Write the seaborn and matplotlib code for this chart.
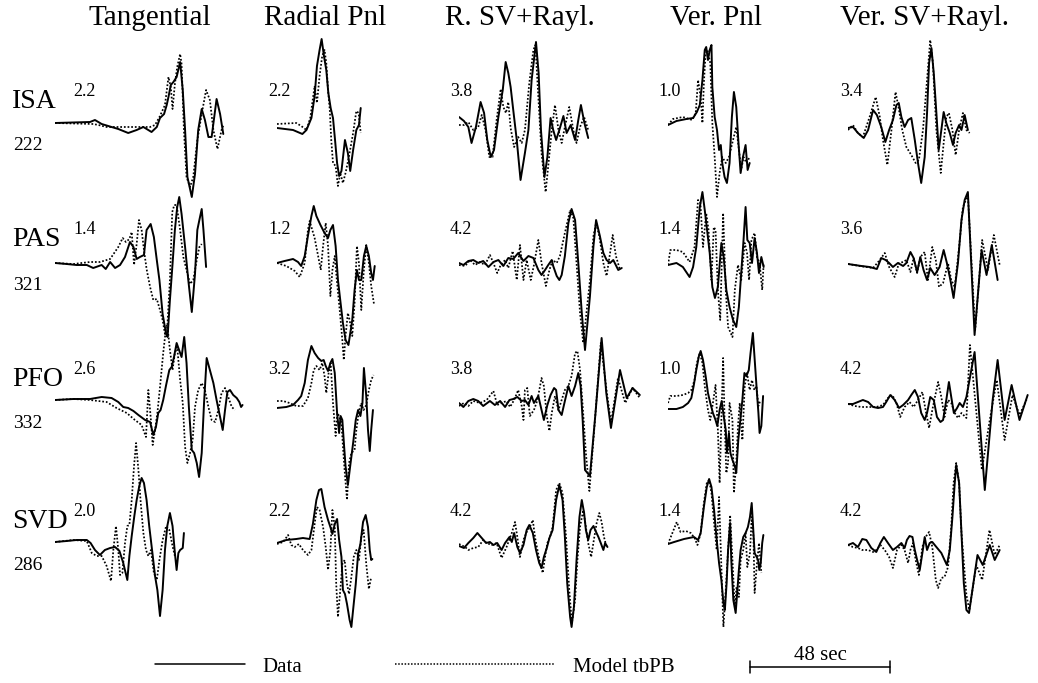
import matplotlib
matplotlib.use("Agg")
import matplotlib.pyplot as plt
from matplotlib.lines import Line2D
import seaborn as sns

# ---------------------------------------------------------------------------
# Waveforms: time (s from window start) and amplitude (normalised units)
# DATA = observed record, MODEL = synthetic for model tbPB
# ---------------------------------------------------------------------------

# ISA
ISA_TAN_T = [0, 12.0, 13.7, 16.0, 19.4, 21.7, 25.1, 28.0, 30.3, 33.1, 34.9, 36.0, 37.4, 38.3, 38.9, 39.7, 40.6, 41.7, 42.9, 43.8, 44.6, 45.4, 46.9, 48.0, 49.1, 50.3, 51.4, 52.6, 53.7, 55.4, 56.6, 57.7]
ISA_TAN_DATA = [0, 0.1, 0.3, -0.1, -0.4, -0.6, -1.0, -0.7, -0.4, -0.9, -0.4, 0.5, 0.9, 1.8, 2.6, 3.8, 4.1, 4.6, 6.1, 3.3, -0.7, -5.4, -7.4, -5.1, -0.7, 1.4, 0.3, -1.4, -1.4, 2.4, 0.9, -1.1]
ISA_TAN_MT = [0, 13.1, 14.9, 17.7, 21.1, 28.0, 32.6, 34.3, 36.0, 37.7, 38.9, 39.7, 40.3, 41.1, 41.9, 42.9, 43.4, 44.2, 45.1, 46.3, 47.4, 48.8, 50.3, 51.8, 53.1, 54.3, 55.7, 57.1, 57.9]
ISA_TAN_MODEL = [0, -0.1, -0.2, -0.4, -0.4, -0.4, -0.4, -0.2, 0.7, 1.8, 4.6, 3.6, 1.4, 3.9, 5.6, 6.9, 5.9, -0.7, -5.4, -6.4, -5.4, -1.7, 0.9, 3.3, 2.3, -0.7, -2.6, -0.7, -0.1]

ISA_RAD_T = [0, 5.5, 8.7, 10.1, 11.8, 12.9, 13.7, 14.6, 15.3, 16.1, 16.9, 17.6, 18.4, 19.2, 19.9, 20.6, 21.3, 22.1, 23.3, 24.3, 25.1, 26.1, 27.2, 28.1, 28.7]
ISA_RAD_DATA = [0, -0.2, -0.6, -0.2, 1.0, 3.2, 6.2, 7.8, 8.9, 7.2, 5.8, 3.5, 2.0, 1.0, -1.2, -3.5, -4.8, -4.3, -1.2, -2.5, -4.3, -2.2, -0.2, 0.3, 2.0]
ISA_RAD_MT = [0, 6.6, 8.3, 10.1, 11.4, 12.9, 13.7, 14.6, 15.5, 16.3, 16.9, 17.5, 18.1, 18.6, 19.2, 20.1, 20.9, 21.7, 22.6, 23.5, 24.7, 26.1, 27.2, 28.0, 28.7]
ISA_RAD_MODEL = [0.4, 0.5, 0.2, -0.2, 1.0, 4.2, 2.5, 5.2, 7.2, 7.8, 6.5, 3.8, 1.8, -1.2, -3.5, -3.8, -5.8, -4.5, -5.5, -4.5, -2.8, -0.5, 1.7, 1.5, -0.5]

ISA_RSV_T = [0, 1.7, 3.2, 4.3, 5.8, 7.4, 8.6, 9.7, 10.9, 12.0, 13.5, 15.0, 16.0, 16.9, 17.7, 18.6, 19.8, 21.1, 22.6, 23.8, 24.9, 26.4, 27.3, 28.1, 29.3, 30.3, 31.4, 32.3, 33.3, 34.4, 35.8, 36.9, 38.3, 39.8, 40.9, 41.8, 43.0, 44.3]
ISA_RSV_DATA = [0.8, 0.4, -0.2, -1.8, -0.2, 2.3, 1.2, -1.5, -3.2, -2.5, 0.8, 3.5, 6.3, 5.2, 3.8, 1.5, -1.5, -5.5, -2.8, -0.5, 4.5, 8.3, 5.2, -0.5, -5.2, -3.2, 0.7, -0.5, -1.5, -0.5, 0.9, -0.8, 0, -1.5, 0.5, 2.0, 0.2, -1.3]
ISA_RSV_MT = [0, 1.7, 3.2, 4.9, 6.6, 7.8, 9.1, 10.4, 11.5, 12.9, 14.3, 15.2, 16.1, 16.9, 17.7, 18.9, 20.3, 21.5, 22.6, 24.1, 25.5, 26.2, 27.2, 28.3, 29.7, 30.7, 31.8, 32.9, 34.1, 35.2, 36.3, 37.8, 39.2, 40.3, 41.5, 42.9, 44.3]
ISA_RSV_MODEL = [0, 0, 0.3, -0.5, -0.2, 1.0, -0.5, -3.2, -3.2, 0.5, 3.6, 1.8, 1.2, 2.3, -0.3, -2.2, -1.2, -1.8, -0.5, 4.2, 7.5, 8.0, 2.8, -2.8, -6.7, -3.8, -0.5, 2.0, -0.5, -1.8, -0.2, 1.8, -0.5, -1.8, -0.2, 0.8, -0.5]

ISA_VPN_T = [0, 2.9, 6.3, 8.6, 9.9, 10.9, 11.8, 12.6, 13.1, 13.7, 14.3, 14.9, 15.2, 16.0, 16.8, 17.5, 18.1, 18.6, 19.4, 20.2, 21.1, 21.9, 22.6, 23.4, 24.1, 24.9, 25.7, 26.6, 27.3, 28.0]
ISA_VPN_DATA = [0, 0.4, 0.6, 0.7, 1.3, 2.0, 4.5, 7.5, 7.8, 6.5, 7.5, 8.0, 3.8, 0.8, -0.5, -2.5, -2.0, -3.8, -5.2, -5.8, -3.8, 0.8, 3.3, 1.8, -1.5, -4.8, -3.2, -2.0, -4.5, -3.8]
ISA_VPN_MT = [0, 1.7, 5.1, 8.3, 9.5, 10.3, 11.2, 11.8, 12.3, 12.9, 13.5, 14.5, 15.2, 16.0, 16.8, 17.7, 18.6, 19.8, 20.9, 22.3, 23.4, 24.6, 25.1, 25.9, 26.9, 28.0]
ISA_VPN_MODEL = [0, 0.6, 0.8, 0.5, 1.2, 4.5, 2.8, 0.2, 4.2, 7.2, 7.5, 6.2, 0.2, -3.2, -7.2, -4.8, -3.2, -3.8, -3.2, -1.5, -0.2, -3.2, -4.5, -3.2, -3.8, -3.2]

ISA_VSV_T = [0, 1.7, 3.4, 5.4, 6.9, 8.6, 9.9, 11.4, 12.8, 14.1, 15.4, 16.6, 17.4, 18.3, 19.4, 20.6, 21.7, 22.9, 24.0, 25.1, 26.3, 27.1, 27.8, 28.6, 29.4, 30.3, 31.1, 32.0, 32.8, 33.7, 34.9, 36.0, 36.9, 38.1, 38.9, 40.0, 41.1]
ISA_VSV_DATA = [0.2, 0.3, -0.3, -0.8, 0, 2.0, 1.5, 0.3, -1.2, 0, 1.0, 2.5, 2.7, 1.3, 0.3, 1.0, 1.2, -1.0, -3.3, -5.3, -2.7, 1.7, 6.7, 8.2, 5.7, 1.7, -2.0, 0, 1.8, 0.7, -0.3, -1.5, -0.3, 0.5, 0, 1.5, 0]
ISA_VSV_MT = [0, 1.7, 3.4, 5.1, 7.4, 9.5, 10.9, 12.0, 13.5, 14.9, 16.3, 17.5, 18.6, 20.0, 21.7, 23.2, 24.3, 25.7, 27.1, 28.2, 29.1, 30.3, 31.8, 32.8, 33.7, 34.6, 35.8, 36.9, 38.1, 39.4, 40.6, 41.7]
ISA_VSV_MODEL = [0, 0.5, -0.3, -0.7, 1.3, 3.3, 1.3, -1.0, -3.5, 0, 3.8, 2.0, 0, -1.7, -2.5, -3.3, -3.0, 0, 5.0, 9.0, 6.7, 0, -4.3, -1.3, 1.3, 1.7, 0, -2.5, 0, 1.7, 0, -0.3]

# PAS
PAS_TAN_T = [0, 4.0, 7.4, 10.9, 13.1, 16.0, 17.4, 18.9, 20.6, 22.3, 24.0, 25.7, 26.9, 28.0, 29.1, 30.5, 31.4, 32.8, 33.9, 34.9, 35.8, 36.9, 38.1, 38.6, 39.4, 40.3, 41.1, 41.9, 42.6, 43.4, 44.6, 45.7, 46.9, 48.0, 48.8, 49.5, 50.3, 50.9, 51.8]
PAS_TAN_DATA = [0, -0.1, -0.2, -0.2, -0.5, -0.2, -0.6, 0.1, -0.5, -0.2, 0.6, 2.1, 1.6, 0.4, 0.6, 0.8, 3.3, 3.9, 2.6, 0.3, -1.7, -5.1, -7.1, -7.4, -3.7, -0.1, 3.3, 5.6, 6.6, 4.9, 1.6, -1.7, -4.9, -1.1, 3.3, 4.3, 5.4, 3.3, -0.4]
PAS_TAN_MT = [0, 6.3, 12.0, 15.4, 18.9, 21.7, 23.2, 24.3, 25.5, 26.3, 27.1, 28.0, 28.8, 29.7, 30.5, 31.4, 32.6, 33.7, 34.9, 36.0, 36.9, 37.7, 38.5, 39.4, 40.2, 40.9, 41.7, 42.9, 44.0, 45.1, 46.3, 47.4, 48.6, 49.5, 50.3]
PAS_TAN_MODEL = [0, -0.1, 0.1, 0.1, 0.4, 1.6, 2.5, 2.1, 2.4, 3.1, -0.2, 1.9, 4.3, 3.3, 1.3, -0.6, -2.4, -3.7, -3.6, -4.7, -5.7, -7.1, -6.4, -1.7, 5.1, 5.8, 5.8, 3.3, 0.6, -0.7, -2.1, -1.7, 0.3, 1.6, 1.9]

PAS_RAD_T = [0, 2.6, 5.5, 7.2, 8.3, 9.5, 10.6, 11.8, 12.6, 13.5, 14.9, 16.3, 17.5, 18.3, 19.2, 20.1, 20.9, 21.8, 22.6, 23.5, 24.5, 25.8, 26.6, 27.4, 28.1, 28.9, 29.8, 30.6, 31.5, 32.3, 32.9, 33.5]
PAS_RAD_DATA = [0, 0.2, 0.4, 0.1, -0.3, 0.7, 2.7, 4.7, 5.7, 4.7, 3.8, 3.0, 2.5, 3.3, 3.8, 1.7, -1.7, -4.0, -6.0, -7.7, -8.2, -5.7, -2.7, -0.7, -1.7, -1.7, 0.7, 1.7, 0.7, -1.0, -1.7, -0.3]
PAS_RAD_MT = [0, 3.2, 6.1, 7.8, 9.5, 10.6, 11.2, 12.1, 12.9, 14.1, 15.0, 15.8, 16.7, 17.5, 18.3, 19.0, 19.8, 20.6, 21.5, 22.4, 22.9, 23.5, 24.3, 24.9, 25.8, 26.6, 27.4, 28.1, 28.9, 29.7, 30.6, 31.5, 32.3, 33.3]
PAS_RAD_MODEL = [0, -0.3, -0.8, -1.4, 0, 3.3, 4.2, 3.3, 2.5, 0.7, -0.7, 1.7, 4.0, 1.7, -3.3, -0.7, 0.7, -2.0, -4.7, -7.7, -9.7, -7.3, -5.0, -5.7, -7.3, -4.0, 1.7, 0, -4.7, -1.0, 1.8, 0, -2.3, -4.2]

PAS_RSV_T = [0, 1.5, 3.2, 4.9, 6.6, 8.3, 10.1, 11.8, 13.5, 15.2, 16.9, 18.6, 20.3, 22.1, 23.8, 25.5, 27.2, 28.3, 29.5, 30.6, 31.8, 32.3, 33.5, 34.4, 35.2, 36.3, 37.5, 38.6, 39.8, 40.9, 42.1, 43.2, 44.9, 46.1, 47.0, 48.3, 49.5, 50.6, 51.8, 52.9, 54.6, 55.8]
PAS_RSV_DATA = [0, -0.2, 0.2, 0.3, 0, 0.2, -0.4, 0.1, 0.3, -0.3, 0.5, 0.4, 1.0, 0.2, 0.7, 0.5, -0.7, -1.2, -0.7, -0.2, 0.3, -0.3, -1.3, -1.7, -1.2, 0.7, 4.0, 5.4, 4.3, 0, -5.0, -8.7, -3.3, 1.7, 4.3, 2.7, 1.0, 0.3, 0, 0.3, -0.7, -0.5]
PAS_RSV_MT = [0, 2.1, 3.8, 5.5, 7.2, 8.9, 10.6, 11.8, 13.1, 14.3, 15.8, 16.9, 18.4, 19.8, 20.9, 22.1, 23.2, 24.6, 25.7, 27.2, 28.3, 29.8, 31.0, 32.1, 33.5, 34.6, 36.3, 38.1, 39.2, 40.3, 41.5, 42.6, 44.9, 46.1, 47.0, 48.1, 49.5, 50.6, 51.8, 52.7, 53.8, 55.2]
PAS_RSV_MODEL = [-0.2, -0.3, 0.3, -0.2, 0.1, -0.2, 0.8, 0, -1.0, -0.2, 0.3, -0.5, 1.2, -1.7, 1.8, -1.7, 0.3, -1.7, -0.2, 2.3, 0, -2.3, -0.7, 0.3, 0, 0.7, 3.0, 5.3, 4.5, 0, -5.0, -8.0, -1.7, 2.7, 4.0, 2.7, 0, -1.3, 1.0, 2.8, 0.7, -0.7]

PAS_VPN_T = [0, 2.9, 5.1, 7.4, 8.6, 9.7, 10.9, 11.8, 12.6, 13.4, 14.3, 15.2, 16.1, 17.1, 18.3, 19.1, 20.0, 21.1, 22.3, 23.4, 24.3, 25.1, 25.9, 26.6, 27.2, 28.0, 28.8, 29.7, 30.5, 31.2, 32.0, 32.8]
PAS_VPN_DATA = [0, 0.2, -0.2, -1.2, -0.2, 1.8, 5.8, 7.3, 5.5, 3.5, 1.2, -2.2, -3.3, -2.2, 2.2, 0.8, -2.5, -4.2, -5.5, -6.2, -4.2, -0.8, 2.5, 5.8, 2.5, 2.2, 0.2, 2.7, 1.2, -0.8, 0.8, -0.2]
PAS_VPN_MT = [0, 0.8, 2.9, 5.1, 7.4, 9.1, 10.3, 11.1, 12.0, 13.1, 13.9, 14.9, 15.7, 16.3, 17.1, 17.9, 18.9, 19.8, 20.6, 22.1, 22.9, 24.0, 25.1, 26.3, 27.1, 27.8, 28.6, 29.7, 30.5, 31.4, 32.3, 32.8]
PAS_VPN_MODEL = [0, 1.5, 1.5, 1.3, 0.3, 1.8, 6.5, 6.2, 1.8, 5.2, 3.5, -1.5, 3.8, 3.5, -2.5, -5.5, 5.2, -2.5, -6.2, -7.2, -2.5, 0, -1.5, 2.2, 1.2, -1.5, 2.5, 3.2, 0.8, 0.2, -2.5, 0.2]

PAS_VSV_T = [0, 2.3, 4.6, 7.4, 9.9, 11.4, 12.9, 14.1, 15.4, 17.1, 18.9, 20.0, 21.4, 22.5, 23.7, 24.8, 25.9, 27.1, 28.2, 29.7, 31.4, 32.8, 33.9, 35.1, 36.2, 37.7, 38.9, 40.0, 41.1, 43.4, 45.8, 47.5, 49.3, 51.3]
PAS_VSV_DATA = [0.1, 0, -0.1, -0.2, -0.4, 0.7, 0.5, 0.2, -0.2, 0.2, -0.1, 0.2, 1.3, 0.7, -0.7, 0.8, -0.5, -1.5, -0.3, -1.0, -0.2, 1.5, 0.2, -1.5, -3.3, 0.2, 4.5, 6.5, 7.3, -7.0, 1.5, -1.0, 2.0, -1.5]
PAS_VSV_MT = [0, 4.0, 8.6, 10.9, 12.6, 14.1, 16.0, 17.5, 18.9, 20.0, 21.4, 22.5, 23.7, 24.8, 26.3, 27.4, 28.9, 30.1, 31.2, 32.6, 34.3, 35.4, 36.6, 38.1, 39.4, 41.1, 43.6, 46.0, 48.0, 50.0, 52.0]
PAS_VSV_MODEL = [0.1, -0.1, -0.3, 0.5, 1.2, -0.2, -1.2, 0.2, 0.3, 0.5, -0.7, 0.7, -0.8, 0.8, 1.3, -1.5, 1.8, 0.5, -2.2, -1.8, 0.2, -1.5, -2.2, 1.8, 5.8, 7.0, -6.5, 2.5, -0.5, 3.0, 0]

# PFO
PFO_TAN_T = [0, 6.3, 12.0, 16.0, 19.4, 21.7, 23.4, 25.1, 26.9, 28.6, 30.9, 32.6, 33.7, 34.6, 35.4, 36.2, 37.1, 38.1, 39.2, 40.0, 40.8, 41.7, 42.9, 43.4, 44.3, 45.1, 45.9, 46.9, 47.7, 48.6, 49.4, 50.3, 51.1, 52.0, 53.1, 54.3, 55.4, 56.6, 57.5, 58.3, 59.1, 60.0, 61.1, 62.3, 63.2, 63.8, 64.3]
PFO_TAN_DATA = [0, 0.1, 0.1, 0.3, 0.2, -0.2, -0.7, -0.8, -1.1, -1.5, -2.0, -2.2, -3.5, -2.7, -1.3, -1.0, 0, 1.5, 3.0, 3.3, 4.3, 5.7, 4.7, 4.3, 6.3, 3.7, -0.7, -5.0, -5.3, -6.3, -7.7, -5.3, -0.3, 4.2, 3.0, 1.7, 0, -1.7, -3.0, -1.0, 0.8, 1.0, 0.5, 0.2, -0.2, -0.7, -0.5]
PFO_TAN_MT = [0, 6.3, 12.0, 17.7, 21.1, 24.6, 27.4, 29.7, 31.2, 32.0, 32.8, 33.5, 34.3, 35.1, 36.0, 37.1, 38.1, 38.5, 39.4, 40.3, 41.1, 41.9, 42.9, 43.8, 44.6, 45.4, 46.3, 47.2, 48.0, 49.1, 50.3, 51.4, 52.6, 53.7, 54.9, 56.0, 57.1, 58.3, 59.4, 60.6, 61.7]
PFO_TAN_MODEL = [0, 0.1, 0, -0.2, -0.8, -1.3, -2.0, -2.5, -3.7, 1.0, -1.7, -4.5, -3.0, -1.3, 1.3, 4.7, 7.3, 7.5, 5.0, 3.0, 4.7, 5.3, 2.0, -0.3, -4.7, -6.3, -5.3, -4.0, -0.7, 1.0, 1.7, 1.0, -0.7, -2.0, -2.2, -1.0, 0.7, 1.2, 0.3, -0.7, -1.0]

PFO_RAD_T = [0, 3.2, 5.5, 7.2, 8.3, 9.5, 10.6, 11.8, 12.9, 14.1, 15.2, 16.0, 16.7, 17.5, 18.3, 19.0, 19.8, 20.6, 21.3, 21.8, 22.4, 23.0, 23.5, 24.3, 25.1, 26.1, 27.0, 27.8, 28.6, 29.3, 29.8, 30.6, 31.2, 31.8, 32.3, 32.9]
PFO_RAD_DATA = [0, 0.1, 0.3, 0.8, 1.2, 2.5, 4.8, 6.2, 5.5, 5.0, 4.7, 4.8, 4.2, 3.7, 4.5, 4.9, 3.5, -0.5, -2.5, -0.8, -1.2, -3.8, -5.8, -7.7, -5.8, -3.5, -1.2, -0.2, -0.8, 0.5, 4.0, 1.2, -2.2, -4.3, -2.2, -0.2]
PFO_RAD_MT = [0, 2.1, 4.3, 6.6, 8.9, 10.6, 11.8, 12.6, 13.5, 14.6, 15.5, 16.3, 16.9, 17.7, 18.4, 19.2, 20.1, 20.7, 21.3, 22.1, 22.6, 23.2, 24.0, 24.7, 25.5, 26.6, 27.2, 28.1, 28.9, 29.7, 30.6, 31.5, 32.3, 33.1]
PFO_RAD_MODEL = [0.7, 0.7, 0.5, 0.2, 0.2, 1.0, 2.5, 3.8, 4.2, 3.8, 4.5, 3.2, 1.5, 3.5, 4.5, 0.5, -2.8, -0.5, -0.8, -1.5, -3.8, -6.3, -9.2, -5.5, -4.5, -4.2, -2.2, -0.3, 0.5, -0.2, 0.3, 1.8, 2.8, 3.3]

PFO_RSV_T = [0, 1.5, 3.2, 4.9, 6.6, 8.3, 10.6, 12.3, 14.1, 15.8, 17.3, 18.6, 20.0, 21.5, 22.6, 23.8, 24.9, 25.7, 27.2, 28.3, 29.1, 30.3, 31.4, 32.6, 33.3, 34.1, 35.2, 36.3, 37.5, 38.6, 39.8, 40.9, 41.7, 42.4, 43.2, 44.9, 46.8, 48.9, 50.5, 52.1, 55.2, 57.5, 59.5, 62.0]
PFO_RSV_DATA = [0, -0.4, 0.2, 0.4, 0.2, -0.3, 0.2, -0.2, 0.2, -0.4, 0.3, 0.4, 0.6, 0.2, 0.3, -0.2, 0.7, 0, 0.7, -0.7, -1.7, -0.2, 0.8, 1.5, 1.3, -0.7, -1.2, 0.2, 1.7, 0.7, 1.7, 3.0, 1.7, -1.7, -6.7, -7.3, -1.0, 6.5, 1.0, -2.5, 3.3, 0.5, 1.5, 0.8]
PFO_RSV_MT = [0, 1.7, 3.2, 4.9, 7.2, 9.5, 11.8, 13.1, 14.6, 16.3, 17.5, 18.9, 20.3, 21.5, 22.1, 22.6, 23.4, 24.3, 25.7, 26.9, 28.3, 29.1, 30.1, 31.0, 31.8, 32.9, 34.1, 35.2, 36.3, 37.5, 38.6, 39.8, 40.6, 41.5, 42.4, 43.5, 44.7, 46.8, 48.6, 50.5, 52.1, 54.5, 57.0, 59.5, 62.0]
PFO_RSV_MODEL = [-0.3, 0, -0.3, 0.2, 0, 0.3, 1.2, -0.2, 0, 0.2, -0.4, 0.3, 1.3, -0.3, -1.7, 1.3, 1.5, -1.3, -0.7, 0.3, 2.5, 1.7, -1.3, -2.8, -1.0, 0.7, -0.7, 0.3, 1.3, 1.7, 2.7, 5.0, 5.2, 3.3, -0.3, -5.0, -8.8, -1.0, 6.0, 1.5, -2.0, 2.5, 0, 1.5, 0.5]

PFO_VPN_T = [0, 2.9, 5.1, 6.9, 8.0, 8.8, 9.7, 10.6, 11.2, 12.0, 12.9, 13.7, 14.5, 15.4, 16.3, 16.9, 17.7, 18.4, 19.1, 19.8, 20.2, 20.9, 21.4, 22.1, 22.9, 23.4, 24.1, 24.8, 25.5, 26.2, 26.9, 27.7, 28.3, 29.1, 29.8, 30.5, 31.0, 31.4, 32.0, 32.6]
PFO_VPN_DATA = [0, 0, 0.2, 0.6, 1.1, 2.3, 3.9, 5.3, 5.8, 4.9, 3.3, 1.6, 0.6, -0.4, -1.1, -1.7, -0.1, 0.8, -0.7, -2.1, -4.4, -2.4, -4.4, -5.1, -5.7, -6.4, -3.1, -1.1, 0.9, 3.6, 3.3, 3.9, 5.6, 7.6, 4.6, 1.6, -0.4, -2.4, -1.7, 1.3]
PFO_VPN_MT = [0, 0.8, 2.9, 5.1, 6.9, 8.0, 9.1, 9.9, 10.9, 11.8, 12.6, 13.7, 14.5, 15.4, 16.3, 17.1, 17.7, 18.3, 18.9, 19.4, 20.0, 20.6, 21.1, 22.1, 22.6, 23.4, 24.0, 24.6, 25.5, 26.3, 27.1, 28.0, 28.8, 29.6, 30.3, 31.0, 31.7]
PFO_VPN_MODEL = [0.6, 1.3, 1.3, 1.4, 1.6, 1.9, 2.9, 4.6, 5.6, 4.6, 2.3, -0.1, -1.1, 0.6, 2.4, -2.1, -7.4, -1.1, 5.1, -1.1, -6.4, -5.4, 0.6, -1.1, -8.4, -5.4, -1.7, 0.6, -3.1, 2.3, 3.6, 1.9, 2.9, 1.9, 2.3, 0.3, 0.9]

PFO_VSV_T = [0, 1.7, 3.4, 5.1, 6.9, 8.6, 10.3, 12.0, 13.1, 14.5, 16.0, 17.5, 18.9, 20.6, 21.7, 22.9, 24.0, 25.1, 26.3, 27.1, 28.2, 29.4, 30.5, 31.7, 32.6, 33.7, 34.6, 35.4, 36.3, 37.4, 38.3, 39.4, 40.6, 43.4, 46.9, 49.6, 51.3, 53.7, 56.1, 58.8, 61.6]
PFO_VSV_DATA = [0, 0, 0.2, 0.4, 0.2, -0.3, -0.4, -0.3, 0.2, 0.9, 0.4, -0.4, -0.1, 0.4, 0.9, 1.4, 0.7, -0.9, -1.6, -0.9, 0.7, 0.4, -1.3, -1.8, -1.6, 0.4, 2.2, 0.7, -0.9, -0.4, 0.1, -0.3, 0.7, 5.2, -8.6, 0.4, 4.4, -1.6, 1.9, -1.6, 0.9]
PFO_VSV_MT = [0, 2.3, 4.6, 7.4, 9.7, 12.0, 13.7, 15.2, 16.6, 17.9, 19.4, 21.1, 22.5, 24.0, 25.5, 26.6, 27.8, 28.9, 30.1, 30.9, 32.0, 33.1, 34.3, 35.4, 36.6, 37.7, 38.9, 40.6, 41.8, 45.9, 48.6, 51.0, 53.7, 56.4, 58.8, 61.2]
PFO_VSV_MODEL = [0, -0.2, -0.3, -0.3, -0.3, -0.1, 0.6, 0.9, 0.1, -1.3, -0.3, 0.2, -0.3, 0.4, 1.2, -0.6, -2.4, -0.6, 1.1, 2.2, 0.7, -1.3, 0.4, 0.1, -0.9, -1.4, -0.9, -1.4, 5.9, -6.6, -1.6, 2.4, -3.6, 0.9, -1.1, 0.4]

# SVD
SVD_TAN_T = [0, 4.0, 7.4, 10.9, 12.2, 13.7, 15.4, 17.1, 18.9, 20.6, 22.1, 23.4, 24.8, 25.5, 26.3, 27.2, 28.0, 28.9, 29.7, 30.5, 31.4, 32.3, 33.4, 34.3, 35.1, 36.0, 36.9, 37.7, 38.5, 39.4, 40.3, 41.1, 41.7, 42.3, 42.9, 43.8, 44.2]
SVD_TAN_DATA = [0, 0.1, 0.2, 0.2, -0.1, -0.8, -1.3, -0.8, -0.6, -0.5, -0.9, -2.1, -3.8, -1.4, 0.6, 2.6, 4.2, 5.6, 6.4, 5.9, 4.2, 1.6, -1.1, -3.4, -4.8, -7.4, -4.8, -0.8, 1.6, 2.9, 1.6, -1.1, -2.8, -1.1, -0.8, -0.6, 0.9]
SVD_TAN_MT = [0, 6.3, 10.9, 12.6, 14.3, 16.0, 17.7, 19.2, 20.0, 20.9, 21.7, 22.3, 23.1, 24.0, 24.8, 25.5, 26.3, 27.1, 27.8, 28.6, 29.4, 30.3, 31.2, 32.0, 32.9, 33.9, 34.9, 35.8, 36.9, 38.1, 39.2, 40.3, 41.1]
SVD_TAN_MODEL = [0, 0.2, 0.1, -1.1, -1.4, -1.4, -2.4, -3.9, -0.8, 1.6, -0.8, -3.3, -3.1, -0.1, 1.6, 1.7, 4.2, 7.6, 9.9, 7.2, 3.9, 0.9, -0.8, -1.4, -0.8, -3.1, -3.8, -1.8, 0.2, 1.6, 1.2, -0.4, -1.4]

SVD_RAD_T = [0, 3.2, 6.6, 8.9, 11.2, 12.3, 13.5, 14.4, 15.2, 16.3, 17.5, 18.3, 19.0, 19.8, 20.6, 21.3, 22.1, 22.6, 23.3, 24.0, 24.9, 25.5, 26.3, 27.0, 27.8, 28.6, 29.5, 30.4, 31.2, 31.8, 32.3, 32.7]
SVD_RAD_DATA = [0, 0.3, 0.4, 0.5, 0.4, 1.9, 4.3, 5.3, 5.4, 3.6, 2.3, 1.6, 0.9, 1.9, 2.4, 0.3, -1.4, -4.7, -5.1, -6.1, -7.7, -8.4, -6.1, -4.1, -1.1, -0.1, 2.1, 2.8, 1.6, -0.7, -1.7, -1.6]
SVD_RAD_MT = [0, 2.1, 3.8, 4.9, 6.1, 7.5, 8.9, 10.6, 11.8, 12.9, 13.7, 14.6, 15.8, 16.7, 17.5, 18.3, 19.0, 19.8, 20.3, 20.9, 21.7, 22.4, 23.2, 24.0, 24.7, 25.5, 26.3, 27.2, 28.1, 28.9, 29.7, 30.6, 31.5, 32.3]
SVD_RAD_MODEL = [-0.1, 0.1, 0.8, -0.2, -0.4, -0.1, -0.7, -1.2, -0.7, 1.9, 3.6, 3.3, 1.6, -0.4, -2.7, -0.7, 3.3, 1.6, -4.1, -7.4, -4.7, -2.1, -1.7, -4.1, -5.1, -3.4, -1.4, -0.7, -1.7, 0.6, 1.3, -2.1, -4.6, -3.4]

SVD_RSV_T = [0, 1.7, 3.2, 4.9, 6.3, 7.8, 9.3, 10.6, 11.8, 13.1, 14.6, 15.8, 17.3, 18.1, 18.9, 20.0, 20.9, 22.1, 23.2, 24.1, 25.3, 26.4, 27.5, 28.3, 29.1, 30.1, 31.0, 32.1, 33.3, 34.4, 35.5, 36.3, 37.1, 38.1, 38.6, 39.4, 40.3, 41.3, 42.1, 42.9, 43.5, 44.3, 45.1, 46.1, 47.0, 47.8, 48.6, 49.5, 50.1, 50.9]
SVD_RSV_DATA = [-0.1, -0.3, 0.2, 0.7, 1.2, 0.7, 0.2, 0.3, 0, 0.2, -0.5, 0.2, 0.8, 0.3, 1.2, -0.2, -0.8, 0, 1.5, 2.0, 1.2, -0.5, -1.8, -2.3, -1.2, -0.3, 0.7, 1.5, 4.5, 6.0, 4.5, 0.8, -3.8, -7.2, -8.2, -6.2, -1.5, 2.8, 4.5, 3.2, 1.5, 0.5, 1.5, 1.9, 1.3, 0.8, 0.2, -0.5, 0.2, -0.2]
SVD_RSV_MT = [0, 2.1, 3.2, 4.9, 6.6, 8.3, 9.5, 11.2, 12.9, 14.6, 16.3, 18.1, 19.2, 20.0, 20.9, 22.1, 23.2, 24.3, 25.3, 26.1, 26.9, 27.8, 28.7, 29.5, 30.3, 31.2, 32.1, 33.3, 34.4, 35.5, 36.7, 37.8, 38.7, 39.8, 40.6, 41.5, 42.6, 43.5, 44.3, 45.3, 46.4, 47.2, 48.1, 48.9, 49.7, 50.6]
SVD_RSV_MODEL = [0.1, -0.2, -0.5, -0.3, -0.2, 0.5, 0.2, 0, 0.2, -1.3, -0.2, 1.2, 2.3, 0.8, -1.2, 0.5, 1.3, 1.8, 2.5, 0.7, -0.5, -1.8, -2.8, -1.2, 0.2, 0.8, 1.8, 5.5, 6.2, 5.2, 0.8, -4.5, -7.8, -5.5, -1.5, 1.8, 3.5, 1.8, 0.2, -1.2, 0.8, 2.2, 3.2, 2.3, 0.8, -0.2]

SVD_VPN_T = [0, 2.1, 5.5, 8.9, 10.3, 11.2, 12.3, 13.3, 14.1, 14.9, 15.8, 16.7, 17.5, 18.3, 19.0, 19.5, 20.1, 20.6, 21.3, 21.7, 22.4, 23.2, 23.8, 24.3, 24.9, 25.8, 26.6, 27.4, 28.1, 28.7, 29.3, 29.7, 30.4, 30.9, 31.3, 31.8, 32.3, 32.7]
SVD_VPN_DATA = [0, 0.2, 0.5, 0.7, 0.4, 1.1, 3.7, 5.7, 6.5, 5.7, 3.4, 0.4, -1.9, -3.6, -5.9, -6.6, -3.9, -0.6, 2.1, -1.6, -5.6, -6.9, -4.6, -2.6, -0.6, 0.7, 1.1, 1.7, 2.7, 4.1, 1.1, -0.9, -1.3, -1.6, -2.6, -1.9, 0.1, 0.9]
SVD_VPN_MT = [0, 1.5, 3.0, 4.3, 6.1, 7.8, 9.1, 10.1, 11.2, 12.3, 13.3, 14.1, 14.9, 15.8, 16.7, 17.5, 18.3, 19.0, 19.8, 20.6, 21.3, 22.1, 22.9, 23.5, 24.3, 24.9, 25.8, 26.6, 27.2, 28.1, 28.7, 29.3, 29.7, 30.4, 31.2, 32.0]
SVD_VPN_MODEL = [0, 1.1, 2.2, 1.2, 1.3, 1.1, 0.6, -0.1, 1.1, 4.1, 6.1, 6.4, 5.1, 2.1, -0.6, 4.7, -2.3, -8.3, -4.6, -0.6, 2.9, -1.6, -6.3, -4.3, -5.3, -1.6, -0.6, 1.1, -2.3, -0.9, 2.7, 0.7, -4.9, -2.3, 0.1, -2.9]

SVD_VSV_T = [0, 1.7, 3.4, 4.9, 6.3, 8.0, 9.7, 11.1, 12.3, 13.7, 15.4, 16.8, 18.3, 19.4, 20.2, 21.1, 22.1, 22.9, 23.7, 24.6, 25.5, 26.3, 27.1, 28.0, 28.9, 30.3, 32.0, 33.1, 33.9, 34.9, 35.8, 36.6, 37.1, 38.1, 38.9, 39.7, 40.6, 41.5, 44.4, 46.2, 48.6, 50.3, 52.0]
SVD_VSV_DATA = [0, 0.2, -0.2, 0.6, 0.5, -0.3, -0.7, 0.2, 0.8, 0.2, -0.5, -0.2, 0.2, -0.3, 0.5, 0.9, 0.8, -0.5, -1.5, -2.5, -0.8, 0.8, -0.5, 0.2, 0.3, -0.2, -0.8, -1.5, -2.0, -0.5, 2.8, 6.2, 8.0, 6.2, 1.2, -3.8, -6.5, -6.8, -1.0, -2.0, 0, -1.5, -0.5]
SVD_VSV_MT = [0, 1.7, 3.4, 4.9, 6.9, 8.6, 9.7, 11.1, 12.6, 14.1, 15.4, 16.8, 18.3, 19.4, 20.6, 21.4, 22.3, 23.2, 24.3, 25.5, 26.6, 27.8, 28.9, 30.1, 30.9, 32.0, 33.1, 34.3, 35.4, 36.2, 37.1, 38.1, 38.9, 40.6, 41.6, 44.0, 46.0, 48.5, 50.3, 52.0]
SVD_VSV_MODEL = [0, -0.2, -0.3, -0.5, -0.5, -0.7, -0.5, 0, -0.5, -1.2, -2.3, -0.5, 0, -0.5, -1.8, -0.5, 0.2, -1.5, -3.0, -0.2, 0.8, 1.3, -0.2, -3.5, -4.3, -3.3, -3.2, -2.2, 1.8, 6.2, 8.2, 6.2, 1.2, -5.0, -6.5, -2.0, -3.5, 1.5, -1.0, 0]

# Labels
STATIONS = ["ISA", "PAS", "PFO", "SVD"]
AZIMUTHS = ["222", "321", "332", "286"]
COMPONENTS = ["Tangential", "Radial Pnl", "R. SV+Rayl.", "Ver. Pnl", "Ver. SV+Rayl."]
COMP_KEYS = ["TAN", "RAD", "RSV", "VPN", "VSV"]
AMP_SCALES = [
    ["2.2", "2.2", "3.8", "1.0", "3.4"],
    ["1.4", "1.2", "4.2", "1.4", "3.6"],
    ["2.6", "3.2", "3.8", "1.0", "4.2"],
    ["2.0", "2.2", "4.2", "1.4", "4.2"],
]
LEGEND_LABELS = ["Data", "Model tbPB"]
SCALE_BAR_SEC = 48

TRACES = {}
_g = globals()
for st in STATIONS:
    for ck in COMP_KEYS:
        p = f"{st}_{ck}_"
        TRACES[(st, ck)] = (_g[p + "T"], _g[p + "DATA"], _g[p + "MT"], _g[p + "MODEL"])

# ---------------------------------------------------------------------------
# Layout (canvas pixels)
# ---------------------------------------------------------------------------
W_PX, H_PX, DPI = 1038, 683, 100
PX_PER_SEC = 140 / SCALE_BAR_SEC      # time scale shared by every panel
PX_PER_UNIT = 10                      # amplitude scale shared by every panel
SPAN_T, SPAN_A = 80, 13               # panel window: seconds, +-amplitude

COL_X0 = [55, 277, 459, 668, 848]
ROW_Y0 = [
    [123, 128, 125, 125, 130],
    [263, 263, 263, 265, 265],
    [400, 408, 403, 409, 404],
    [542, 543, 545, 544, 545],
]
TITLE_X = [150, 325, 520, 716, 925]
TITLE_Y = 18
STATION_X = 12
STATION_Y = [101, 239, 379, 521]
AZIMUTH_X = 13
AZIMUTH_Y = [146, 286, 424, 565]
SCALE_X = [73, 268, 450, 658, 840]
SCALE_Y = [91, 230, 370, 511]

sns.set_theme(style="white")
plt.rcParams["font.family"] = ["Liberation Serif", "DejaVu Serif"]
plt.rcParams["text.color"] = "black"

fig = plt.figure(figsize=(W_PX / DPI, H_PX / DPI), dpi=DPI, facecolor="white")


def fx(x):
    return x / W_PX


def fy(y):
    return 1 - y / H_PX


def panel_axes(x0, y0):
    rect = [fx(x0), fy(y0 + SPAN_A * PX_PER_UNIT),
            SPAN_T * PX_PER_SEC / W_PX, 2 * SPAN_A * PX_PER_UNIT / H_PX]
    ax = fig.add_axes(rect)
    ax.set_xlim(0, SPAN_T)
    ax.set_ylim(-SPAN_A, SPAN_A)
    ax.set_axis_off()
    ax.patch.set_alpha(0)
    return ax


DOTTED = (0, (1.0, 1.1))

for r, st in enumerate(STATIONS):
    for c, ck in enumerate(COMP_KEYS):
        t, d, mt, m = TRACES[(st, ck)]
        n, nm = min(len(t), len(d)), min(len(mt), len(m))
        ax = panel_axes(COL_X0[c], ROW_Y0[r][c])
        sns.lineplot(x=mt[:nm], y=m[:nm], ax=ax, color="black", linewidth=1.25,
                     linestyle=DOTTED, estimator=None, sort=False)
        sns.lineplot(x=t[:n], y=d[:n], ax=ax, color="black", linewidth=1.4,
                     estimator=None, sort=False)

# Column titles
for c, title in enumerate(COMPONENTS):
    fig.text(fx(TITLE_X[c]), fy(TITLE_Y), title, ha="center", va="center", fontsize=21)

# Station names, azimuths and amplitude factors
for r, st in enumerate(STATIONS):
    fig.text(fx(STATION_X), fy(STATION_Y[r]), st, ha="left", va="center", fontsize=20)
    fig.text(fx(AZIMUTH_X), fy(AZIMUTH_Y[r]), AZIMUTHS[r], ha="left", va="center", fontsize=14)
    for c in range(len(COMPONENTS)):
        fig.text(fx(SCALE_X[c]), fy(SCALE_Y[r]), AMP_SCALES[r][c],
                 ha="left", va="center", fontsize=13)

# Legend keys
LEG_Y = 664
fig.add_artist(Line2D([fx(155), fx(245)], [fy(LEG_Y), fy(LEG_Y)], transform=fig.transFigure,
                      color="black", linewidth=1.1))
fig.text(fx(262), fy(668), LEGEND_LABELS[0], ha="left", va="center", fontsize=15)
fig.add_artist(Line2D([fx(395), fx(555)], [fy(LEG_Y), fy(LEG_Y)], transform=fig.transFigure,
                      color="black", linewidth=1.1, linestyle=DOTTED))
fig.text(fx(573), fy(668), LEGEND_LABELS[1], ha="left", va="center", fontsize=15)

# Time scale bar on the same seconds axis as the traces
bar_ax = fig.add_axes([0, 0, 1, 1])
bar_ax.set_xlim(0, W_PX / PX_PER_SEC)
bar_ax.set_ylim(H_PX, 0)
bar_ax.set_axis_off()
bar_ax.patch.set_alpha(0)
x_start = 750 / PX_PER_SEC
x_end = x_start + SCALE_BAR_SEC
bar_ax.plot([x_start, x_end], [667, 667], color="black", linewidth=1.1)
bar_ax.plot([x_start, x_start], [661, 673], color="black", linewidth=1.1)
bar_ax.plot([x_end, x_end], [661, 673], color="black", linewidth=1.1)
bar_ax.text((x_start + x_end) / 2, 656, f"{SCALE_BAR_SEC} sec", ha="center", va="center",
            fontsize=15)

fig.savefig("out.png", dpi=DPI, facecolor="white")
